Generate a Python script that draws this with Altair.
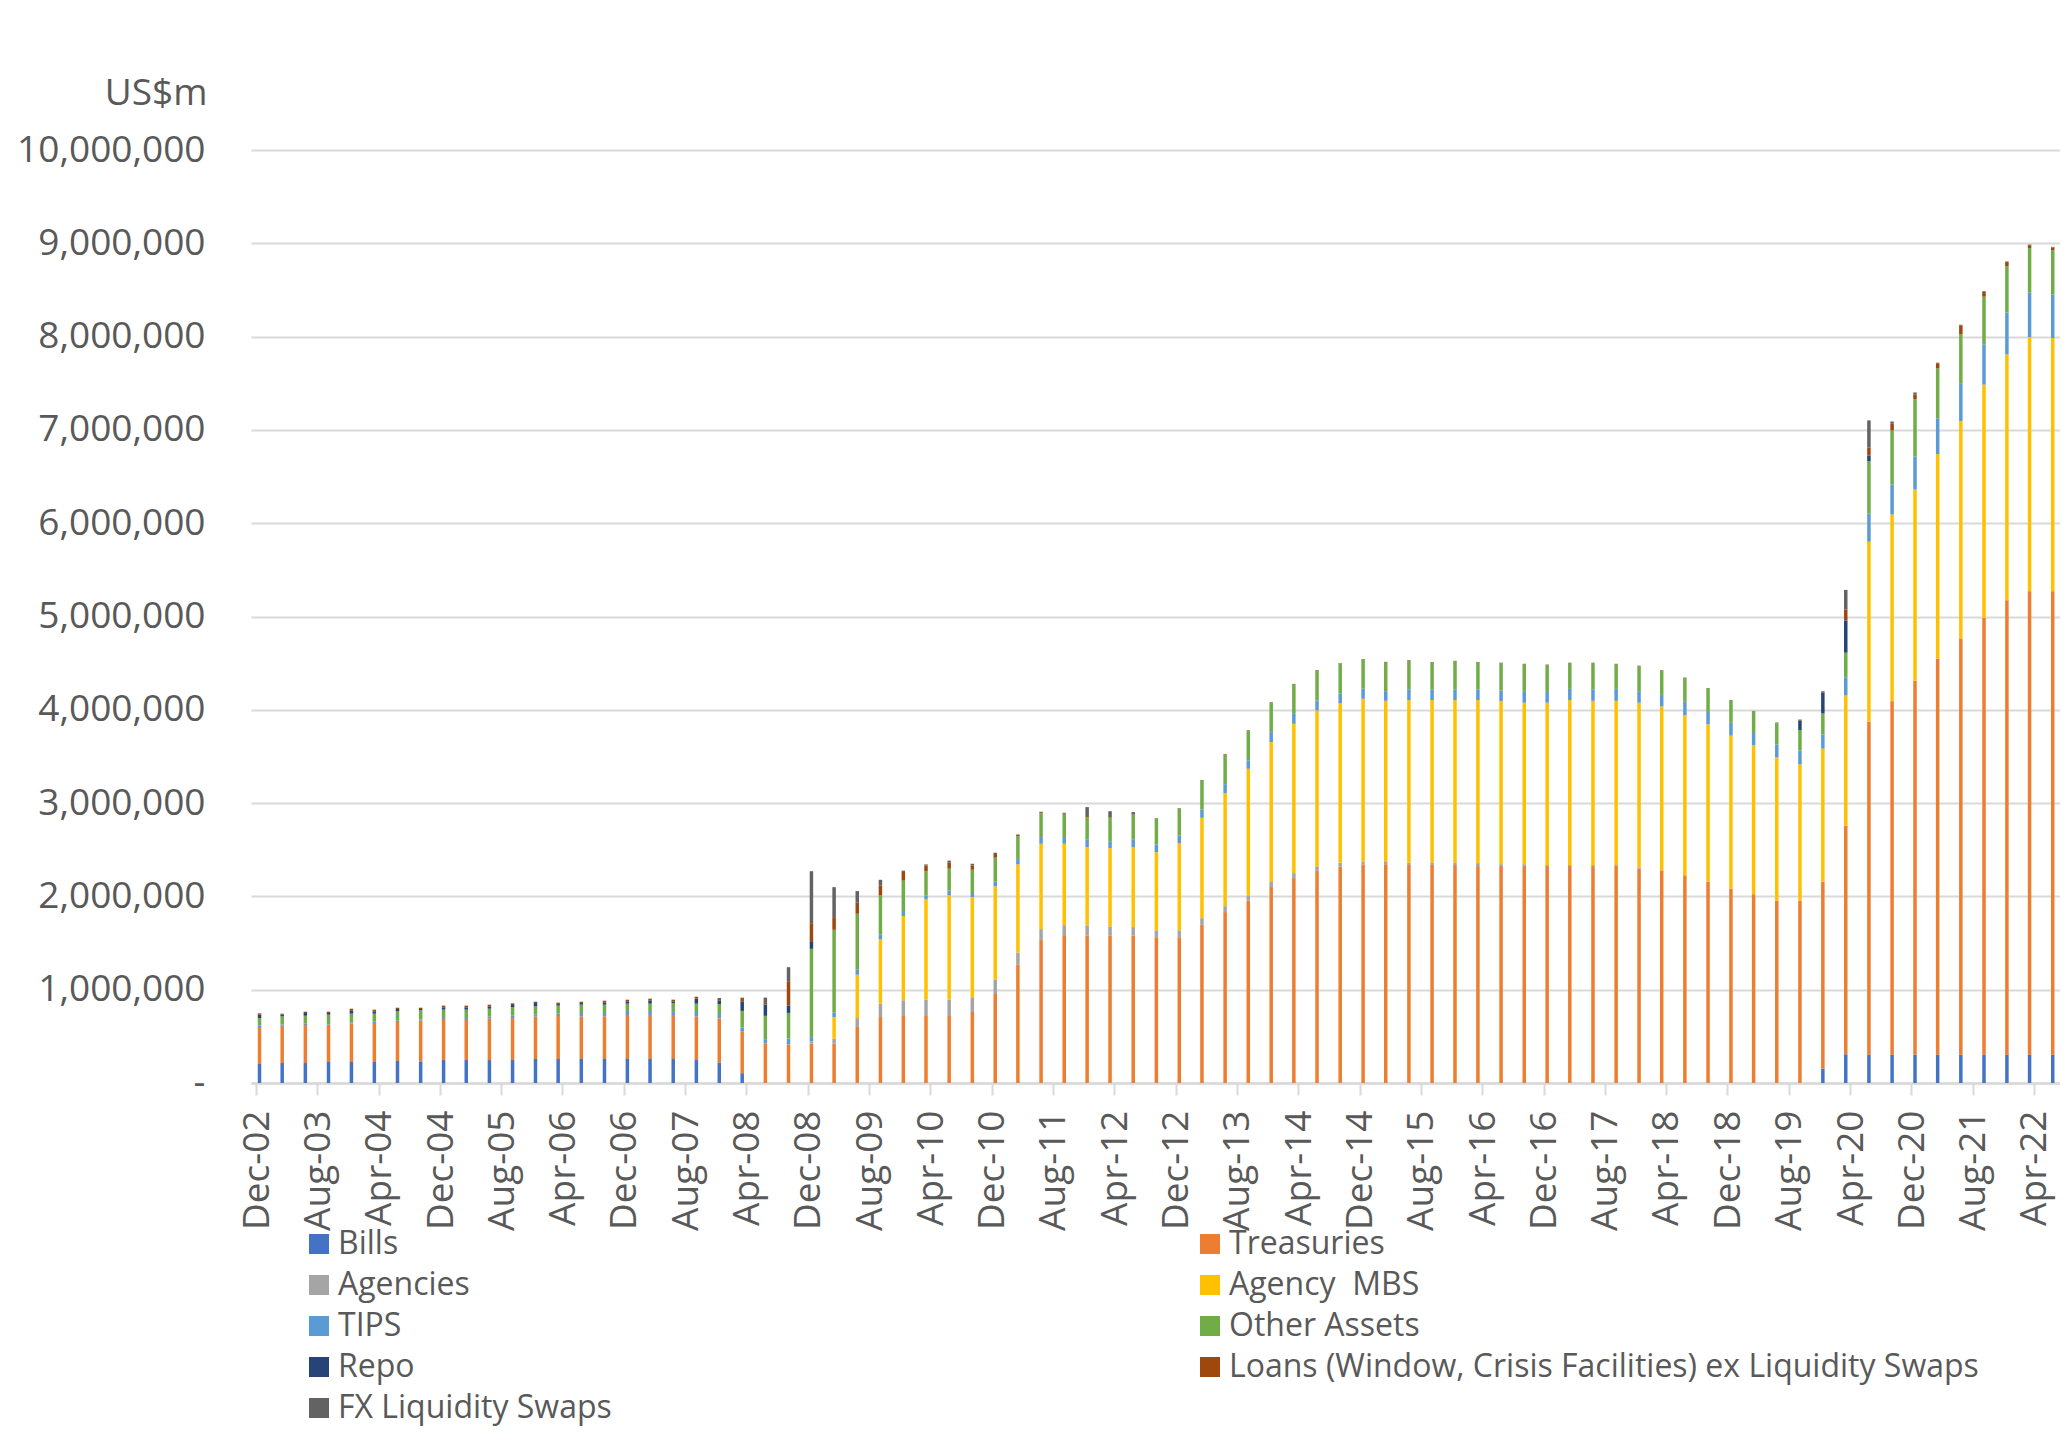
import altair as alt
import pandas as pd

# ---- categories (quarterly observations, Dec-02 .. Jun-22) ----
quarters = pd.date_range("2002-12-01", "2022-06-01", freq="3MS")

series = ["Bills", "Treasuries", "Agencies", "Agency\u00a0 MBS", "TIPS", "Other Assets",
          "Repo", "Loans (Window, Crisis Facilities) ex Liquidity Swaps", "FX Liquidity Swaps"]
colors = ["#4472C4", "#ED7D31", "#A5A5A5", "#FFC000", "#5B9BD5", "#70AD47",
          "#264478", "#9E480E", "#636363"]

# ---- values in US$bn ----
bills = [204, 214, 214, 225, 225, 225, 236, 232, 246, 246, 246, 246, 257, 257, 257, 257, 257, 257,
         257, 246, 221, 105] + [0] * 46 + [153, 308, 304, 304, 304, 304, 304, 304, 304, 304, 304]
treasuries = [396, 400, 407, 400, 411, 418, 418, 436, 440, 429, 443, 450, 454, 461, 457, 457, 472,
              472, 472, 468, 472, 445, 425, 414, 421, 421, 600, 707, 718, 718, 718, 761, 954, 1268,
              1532, 1585, 1582, 1582, 1582, 1561, 1561, 1696, 1832, 1957, 2100, 2196, 2279, 2319,
              2343, 2337, 2337, 2337, 2337, 2325, 2325, 2325, 2325, 2325, 2325, 2325, 2297, 2277,
              2225, 2157, 2084, 2024, 1952, 1952, 2004, 2448, 3568, 3787, 4006, 4240, 4460, 4680,
              4870, 4967, 4967]
agencies = [0] * 24 + [25, 54, 96, 143, 168, 175, 175, 150, 154, 129, 118, 107, 107, 96, 89, 75, 75,
                       71, 64, 54, 54, 54, 43, 43, 30, 32, 24, 28, 28, 32, 20, 20, 12, 12, 12, 12, 8,
                       4, 4, 4, 2, 2, 2, 2, 2, 2, 2, 2, 2, 2, 2, 2, 2, 2, 2]
agency_mbs = [0] * 25 + [232, 464, 689, 904, 1075, 1118, 1082, 1000, 946, 914, 872, 839, 839, 857,
                         839, 936, 1075, 1211, 1357, 1500, 1600, 1671, 1710, 1745, 1727, 1743, 1739,
                         1739, 1747, 1747, 1731, 1739, 1767, 1759, 1759, 1771, 1755, 1715, 1683, 1637,
                         1592, 1536, 1460, 1424, 1396, 1927, 2000, 2049, 2195, 2328, 2499, 2632,
                         2723, 2711]
tips = [14, 15, 15, 18, 14, 14, 14, 11, 21, 21, 22, 25, 21, 25, 36, 36, 32, 32, 42, 47, 46, 45, 45,
        62, 46, 46, 54, 50, 54, 43, 50, 43, 50, 57, 72, 72, 79, 75, 79, 82, 82, 89, 96, 89, 107, 114,
        107, 104, 108, 104, 116, 112, 116, 116, 116, 124, 124, 120, 124, 128, 124, 124, 141, 133,
        137, 133, 137, 149, 153, 194, 304, 322, 353, 383, 407, 432, 450, 474, 468]
other_assets = [82, 85, 85, 89, 93, 86, 100, 100, 79, 90, 85, 90, 89, 86, 89, 89, 89, 89, 86, 89,
                107, 178, 250, 275, 946, 889, 600, 421, 325, 257, 236, 250, 257, 243, 255, 240, 243,
                250, 268, 275, 286, 307, 314, 314, 311, 304, 318, 314, 310, 305, 305, 289, 297, 285,
                289, 285, 277, 273, 277, 261, 265, 257, 253, 249, 237, 229, 229, 221, 225, 264, 559,
                578, 614, 535, 523, 511, 498, 480, 474]
repo = [36, 18, 29, 18, 36, 25, 25, 14, 25, 25, 25, 25, 36, 17, 18, 25, 25, 36, 18, 54, 40, 97,
        120, 79, 82] + [0] * 42 + [100, 225, 345, 61] + [0] * 8
loans = [15, 11, 14, 14, 17, 18, 14, 14, 18, 18, 18, 18, 14, 15, 14, 18, 18, 18, 18, 21, 14, 30,
         18, 254, 193, 136, 118, 107, 93, 64, 68, 46, 39, 14, 12, 10, 11, 7, 4, 4, 4, 5, 5, 5, 5, 5,
         5, 6, 5, 6, 5, 5, 5, 5, 5, 5, 5, 5, 5, 5, 5, 5, 5, 5, 5, 5, 5, 8, 8, 117, 85, 73, 49, 55,
         97, 55, 43, 30, 30]
fx_swaps = [0] * 20 + [11, 15, 57, 157, 557, 321, 125, 61, 14, 11, 18, 18, 14, 7, 4, 10, 96, 64, 25,
                       3, 3, 5, 5, 5, 5, 5, 4, 3, 3, 3, 3, 3, 3, 3, 3, 3, 3, 3, 3, 3, 3, 3, 3, 3, 3,
                       3, 3, 4, 7, 211, 292, 24, 24, 6, 6, 6, 6, 6, 6]

tick_labels = ["Dec-02", "Aug-03", "Apr-04", "Dec-04", "Aug-05", "Apr-06", "Dec-06", "Aug-07",
               "Apr-08", "Dec-08", "Aug-09", "Apr-10", "Dec-10", "Aug-11", "Apr-12", "Dec-12",
               "Aug-13", "Apr-14", "Dec-14", "Aug-15", "Apr-16", "Dec-16", "Aug-17", "Apr-18",
               "Dec-18", "Aug-19", "Apr-20", "Dec-20", "Aug-21", "Apr-22"]
y_ticks = [0, 1000000, 2000000, 3000000, 4000000, 5000000, 6000000, 7000000, 8000000, 9000000,
           10000000]

all_values = [bills, treasuries, agencies, agency_mbs, tips, other_assets, repo, loans, fx_swaps]

rows = []
for i, q in enumerate(quarters):
    d = (q + pd.Timedelta(days=14)).strftime("%Y-%m-%d")
    for j, name in enumerate(series):
        rows.append({"date": d, "series": name, "value": all_values[j][i] * 1000, "order": j})
df = pd.DataFrame(rows)

# legend fills column by column: put the left-column entries first
legend_idx = [0, 2, 4, 6, 8, 1, 3, 5, 7]
legend_domain = [series[k] for k in legend_idx]
legend_range = [colors[k] for k in legend_idx]


def ms(ts):
    return int(pd.Timestamp(ts).value // 10**6)


tick_ms = [ms(pd.to_datetime(t, format="%b-%y")) for t in tick_labels]
x_domain = [ms("2002-12-01"), ms("2022-06-24")]

FONT = "Open Sans"
GREY = "#595959"
GRID = "#d9d9d9"

chart = alt.Chart(df).mark_bar(size=3.5).encode(
    x=alt.X("date:T",
            scale=alt.Scale(type="utc", domain=x_domain),
            axis=alt.Axis(values=tick_ms, labelExpr="utcFormat(datum.value, '%b-%y')",
                          labelAngle=270, labelAlign="right", labelBaseline="middle",
                          labelFontSize=37, labelFont=FONT, labelColor=GREY, labelPadding=15,
                          labelOffset=1, labelOverlap=False, labelFlush=False,
                          domainColor=GRID, domainWidth=2.5, ticks=True, tickSize=12,
                          tickColor=GRID, tickWidth=2, grid=False, title=None)),
    y=alt.Y("value:Q", stack="zero",
            scale=alt.Scale(domain=[0, 10000000], nice=False),
            axis=alt.Axis(values=y_ticks,
                          labelExpr="datum.value == 0 ? '-\u00a0\u00a0' : format(datum.value, ',')",
                          labelFontSize=37, labelFont=FONT, labelColor=GREY, labelPadding=46,
                          labelLimit=400,
                          ticks=False, domain=False, grid=True, gridColor=GRID, gridWidth=2,
                          title="US$m", titleAngle=0, titleAlign="right",
                          titleBaseline="alphabetic", titleX=-44, titleY=-46, titleFontSize=37,
                          titleFont=FONT, titleFontWeight="normal", titleColor=GREY)),
    color=alt.Color("series:N", scale=alt.Scale(domain=legend_domain, range=legend_range),
                    legend=alt.Legend(orient="none", legendX=52, legendY=1078, columns=2,
                                      columnPadding=582, rowPadding=9, symbolType="square",
                                      symbolSize=400, symbolStrokeWidth=0, labelFontSize=32,
                                      labelFont=FONT, labelColor=GREY, labelOffset=3,
                                      labelLimit=1200, title=None, padding=0)),
    order=alt.Order("order:Q", sort="ascending"),
).properties(
    width=1809, height=933,
    autosize=alt.AutoSizeParams(type="none"),
    padding={"left": 243, "top": 142, "right": 0, "bottom": 345},
    background="white",
).configure_view(stroke=None)

chart.save("out.html", embed_options={"renderer": "svg", "actions": False})
